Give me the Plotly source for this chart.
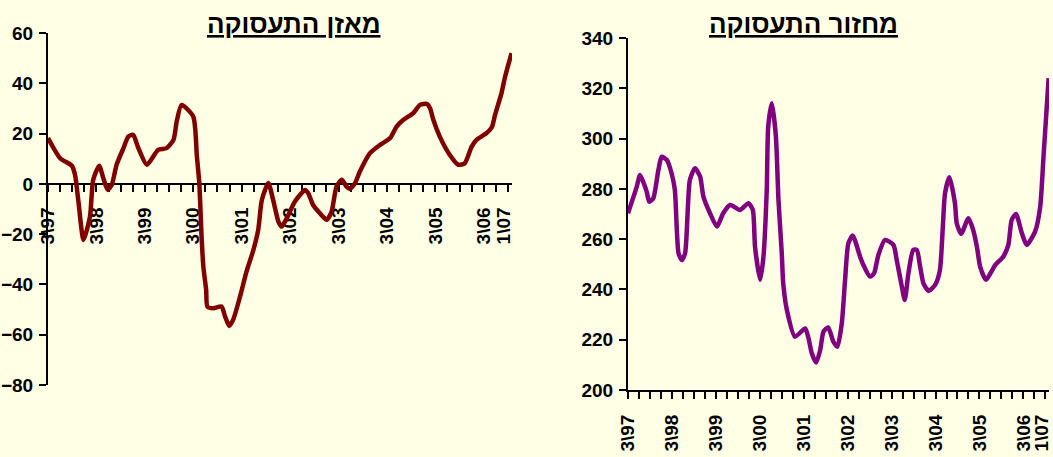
import plotly.graph_objects as go

# ---- data (months since 3/97) ----
balance_months = [0, 3.0, 5.9, 6.7, 7.5, 8.8, 10.4, 11.2, 12.7, 13.7,
                  14.8, 15.8, 17.0, 18.7, 19.9, 21.1, 22.4, 24.5, 27.3, 29.4,
                  31.1, 31.9, 33.1, 36.0, 36.9, 37.5, 38.1, 38.5, 39.2, 39.5,
                  41.0, 43.0, 43.9, 44.9, 45.9, 47.6, 49.2, 50.9, 52.1, 53.0,
                  54.6, 55.8, 57.1, 57.9, 59.2, 61.2, 63.7, 64.5, 65.7, 67.4,
                  69.1, 70.3, 71.5, 72.8, 74.0, 74.8, 76.1, 77.3, 79.8, 82.3,
                  84.8, 86.4, 88.1, 90.5, 92.2, 93.9, 94.7, 95.5, 97.1, 99.6,
                  101.7, 103.3, 105.0, 106.2, 108.7, 110.0, 110.8, 112.4, 113.3, 114.9]
balance_values = [18.2, 10.2, 7.2, 3.6, -6.4, -22.3, -13, 1.6, 7.2, 2.3,
                  -2.4, -0.4, 7.6, 14.2, 18.8, 19.5, 14.2, 7.6, 13.5, 14.2,
                  17.5, 24.8, 31.4, 26.8, 11, 0.3, -22.3, -32.9, -42.2, -48.8,
                  -49.5, -48.8, -52.8, -56.5, -54, -44.8, -34.9, -26.3, -18.3, -6.4,
                  0.3, -6.4, -15, -17, -13.6, -7, -2.4, -3.7, -8.4, -11.7,
                  -14.3, -11, -1.1, 1.6, -1.1, -2, 0.3, 4.9, 12.2, 15.5,
                  18.2, 22.8, 25.5, 28.1, 31.4, 31.8, 30.1, 25.5, 18.8, 11.5,
                  7.6, 8.2, 14.8, 17.5, 20.2, 22.5, 27.4, 36.1, 42.7, 52]

turnover_months = [0, 2.4, 3.3, 5.1, 5.8, 6.9, 8.3, 9.2, 10.6, 11.9,
                   12.8, 13.8, 14.7, 15.6, 16.9, 18.3, 19.7, 20.6, 22.4, 24.3,
                   26.0, 27.9, 30.6, 32.9, 34.1, 34.7, 36.1, 37.0, 37.9, 38.3, 39.3,
                   40.4, 41.1, 42.0, 42.4, 43.4, 45.6, 48.4, 49.3, 50.2, 51.4,
                   52.5, 53.4, 54.7, 56.1, 57.2, 58.4, 59.3, 60.2, 61.4, 63.4,
                   64.3, 66.1, 67.2, 68.4, 70.2, 72.5, 73.4, 74.8, 75.6, 76.6,
                   77.9, 78.9, 79.8, 80.7, 82.1, 83.9, 85.2, 86.0, 86.6, 87.8,
                   89.3, 89.8, 91.0, 93.0, 94.3, 95.3, 96.2, 97.8, 100.3, 102.5,
                   103.9, 104.8, 106.0, 107.6, 108.9, 111.2, 112.6, 113.5, 114.9]
turnover_values = [270.3, 280.9, 285.5, 278.9, 274.9, 276.2, 287.5, 292.8, 291.5, 286.2,
                   279.6, 254.4, 251.7, 254.4, 283.5, 288.2, 284.9, 276.9, 270.3, 265,
                   270.3, 273.6, 271.6, 274.3, 271.6, 257, 243.8, 253, 279.6, 304.7, 314,
                   300.8, 275.6, 254.4, 242.4, 231.8, 221.2, 224.5, 220.6, 214.6, 210.9,
                   215.9, 223.2, 224.9, 219.2, 217.2, 226.5, 243.8, 258.4, 261.4, 253,
                   249.7, 245.1, 246.4, 253.7, 259.7, 257.7, 251.7, 241.1, 235.8, 246.4,
                   255.7, 255.7, 249, 242.4, 239.4, 241.8, 247.7, 265, 278.2, 284.6,
                   274.3, 266.3, 262.1, 268.3, 263.6, 257, 249, 243.8, 249.7, 253,
                   257.7, 267.6, 270, 262.3, 257.7, 263, 272.9, 292.8, 324]

# labels every 12 months plus the last one; quarterly tick marks
tick_months = [0, 12, 24, 36, 48, 60, 72, 84, 96, 108, 113]
tick_labels = ["3\\97", "3\\98", "3\\99", "3\\00", "3\\01", "3\\02",
               "3\\03", "3\\04", "3\\05", "3\\06", "1\\07"]
quarter_step = 3

title_left = "מאזן התעסוקה"
title_right = "מחזור התעסוקה"

# ---- layout geometry ----
W, H = 1053, 457
BG = "#FFFFE6"
FONT = "Liberation Sans, Arial, sans-serif"

lx = [48 / W, 512 / W]
ly = [1 - 385 / H, 1 - 33 / H]
rx = [628 / W, 1049 / W]
ry = [1 - 390 / H, 1 - 38 / H]
left_range = [-80, 60]
right_range = [200, 340]
zero_pos = ly[0] + (0 - left_range[0]) / (left_range[1] - left_range[0]) * (ly[1] - ly[0])
x_range = [0, 115]

fig = go.Figure()
fig.add_trace(go.Scatter(x=balance_months, y=balance_values, mode="lines",
                         line=dict(color="#800000", width=4.5, shape="spline", smoothing=0.6),
                         xaxis="x", yaxis="y", hoverinfo="skip", showlegend=False))
fig.add_trace(go.Scatter(x=turnover_months, y=turnover_values, mode="lines",
                         line=dict(color="#800080", width=4.5, shape="spline", smoothing=0.6),
                         xaxis="x2", yaxis="y2", hoverinfo="skip", showlegend=False))

tickfont = dict(family=FONT, size=19, color="black", weight=700)

yax = dict(showline=True, linecolor="black", linewidth=2, ticks="outside", ticklen=7,
           tickwidth=2, tickcolor="black", showgrid=False, zeroline=False,
           tickfont=tickfont, dtick=20, ticklabelstandoff=2, automargin=False)
xax = dict(range=x_range, showline=True, linecolor="black", linewidth=2,
           ticks="", tickmode="array", tickvals=tick_months, ticktext=tick_labels,
           tickangle=-90, tickfont=tickfont, ticklabelstandoff=15,
           ticklabeloverflow="allow",
           minor=dict(ticks="outside", tickmode="linear", tick0=0, dtick=quarter_step,
                      ticklen=7, tickwidth=2, tickcolor="black", showgrid=False),
           showgrid=False, zeroline=False, automargin=False)

fig.update_layout(
    width=W, height=H, margin=dict(l=0, r=0, t=0, b=0, autoexpand=False),
    paper_bgcolor=BG, plot_bgcolor=BG,
    xaxis=dict(domain=lx, anchor="free", position=zero_pos, layer="below traces", **xax),
    yaxis=dict(domain=ly, anchor="x", range=left_range, **yax),
    xaxis2=dict(domain=rx, anchor="y2", **xax),
    yaxis2=dict(domain=ry, anchor="x2", range=right_range, **yax),
    annotations=[
        dict(text="<u>" + title_left + "</u>", x=294 / W, y=1 - 24 / H, xref="paper", yref="paper",
             xanchor="center", yanchor="middle", showarrow=False,
             font=dict(family=FONT, size=26, color="black", weight=700)),
        dict(text="<u>" + title_right + "</u>", x=803 / W, y=1 - 24 / H, xref="paper", yref="paper",
             xanchor="center", yanchor="middle", showarrow=False,
             font=dict(family=FONT, size=26, color="black", weight=700)),
    ],
)

fig.write_html("out.html", config={"displayModeBar": False},
               post_script="document.body.style.margin='0';")
